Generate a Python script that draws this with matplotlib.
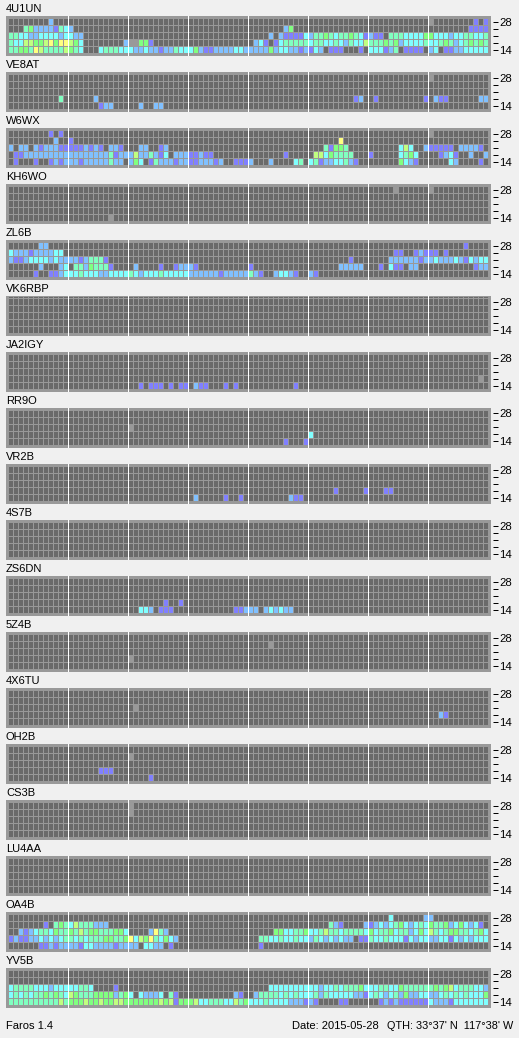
import matplotlib
matplotlib.use("Agg")
import matplotlib.pyplot as plt
from matplotlib.colors import ListedColormap, BoundaryNorm
import numpy as np

#------------------DATA------------------#
# signal level per beacon: 5 bands (top = 28 MHz), 96 slots
# {first slot: "levels"}, 1-7 = level, g = no data, . = nothing heard

stations = ["4U1UN", "VE8AT", "W6WX", "KH6WO", "ZL6B", "VK6RBP", "JA2IGY", "RR9O", "VR2B",
            "4S7B", "ZS6DN", "5Z4B", "4X6TU", "OH2B", "CS3B", "LU4AA", "OA4B", "YV5B"]

band_labels = ["28", "", "", "", "14"]
footer_left = "Faros 1.4"
footer_date = "Date: 2015-05-28"
footer_qth = "QTH: 33°37' N  117°38' W"

heard = {
    "4U1UN": [
        {8: "2", 84: "g", 93: "1", 95: "1"},
        {3: "4522221432", 55: "25", 92: "1111"},
        {0: "443322333323 322", 52: "2.211113 244543445431 211.44433335 533323344334"},
        {0: "433665567577 653", 23: "2gg551", 49: "2", 50: "31.1344444 344334324336 444545233334 334542345454"},
        {0: "445547644446 543", 18: "344433", 24: "322322122433 352112222332 222252332212",
         60: "132.111...1.", 72: "333124.1111.", 84: "23.112233333"},
    ],
    "VE8AT": [
        {84: "g"},
        {},
        {},
        {10: "4", 17: "2", 69: "12", 73: "1", 83: "1", 85: "211", 94: "22"},
        {18: "122", 26: "2", 29: "22"},
    ],
    "W6WX": [
        {8: "1", 10: "1", 84: "g"},
        {9: "2", 12: "1", 66: "7"},
        {0: "2", 2: "22", 5: "21222111112121", 20: "221", 26: "22", 30: "12", 63: "41554", 78: "363",
         83: "211111", 90: "22221"},
        {1: "112 2222222222222222", 20: "4122 2622 4213 .222 1121 1", 55: "1", 61: "66354444", 72: "1",
         78: "3453", 86: "1231", 92: "2", 95: "2"},
        {1: "1", 5: "1", 8: "1212 2212 2222 422. 253. 1422 2122 1122 212", 45: "1112", 52: "2", 57: "34",
         60: "3412233421", 78: "5321", 88: "32", 94: "1"},
    ],
    "KH6WO": [{77: "g", 84: "g"}, {}, {}, {}, {20: "g"}],
    "ZL6B": [
        {6: "22", 91: "1"},
        {0: "32221222233", 77: "11", 81: "12111", 87: "1"},
        {0: "2112 3333 2322 2212 4441", 68: "1", 76: "222222 1223 2223 213233"},
        {6: "2", 10: "23", 13: "44254441", 25: "2", 30: "1", 33: "12221", 48: "1", 66: "22222", 74: "1",
         76: "311", 80: "22", 93: "122"},
        {5: "1", 8: "1123 3343 3322 3333 4323 3343 3333 2222 2212 2222 421", 53: "23321", 60: "21"},
    ],
    "VK6RBP": [{}, {}, {}, {}, {}],
    "JA2IGY": [
        {},
        {},
        {},
        {94: "g"},
        {26: "1", 28: "111", 32: "1", 34: "11", 37: "211", 43: "1", 45: "1", 57: "1"},
    ],
    "RR9O": [{}, {}, {24: "g"}, {60: "3"}, {55: "1", 59: "1"}],
    "VR2B": [
        {},
        {},
        {},
        {65: "1", 71: "1", 75: "11"},
        {37: "2", 43: "1", 46: "1", 56: "211"},
    ],
    "4S7B": [{}, {}, {}, {}, {}],
    "ZS6DN": [
        {},
        {},
        {},
        {31: "1", 34: "1"},
        {26: "332", 30: "111", 45: "11222", 51: "232322"},
    ],
    "5Z4B": [{}, {52: "g"}, {}, {24: "g"}, {}],
    "4X6TU": [{}, {}, {25: "g"}, {86: "21"}, {}],
    "OH2B": [{}, {24: "g"}, {}, {18: "111"}, {28: "1"}],
    "CS3B": [{24: "g"}, {24: "g"}, {}, {}, {}],
    "LU4AA": [{}, {}, {}, {}, {}],
    "OA4B": [
        {76: "3", 83: "22"},
        {7: "1", 9: "45436444222", 64: "421", 71: "21232 3453 2343 5445 2353 231"},
        {2: "2123 4435 4454 6455 4445 53", 28: "2742", 53: "5533445 334644344443 534453442353 643455443453"},
        {0: "1211 2232 3234 4343 4445 5445 7365 7435 32", 50: "4433433433",
         60: "243232322.11", 72: "433433313233", 84: "223313232333"},
        {6: "11 2122 2213 3222 2122 22", 27: "3322", 32: "1", 50: "1"},
    ],
    "YV5B": [
        {},
        {},
        {0: "3444 4333 2333", 12: "33443", 21: "1", 52: "33333333", 60: "332334344453", 72: "334433544444",
         84: "454563444332"},
        {0: "343434454543", 12: "654445555245", 24: "3.32223.41", 45: "21", 49: "2", 50: "4444343433",
         60: "342433333221", 72: "343234252233", 84: "223434343335"},
        {0: "444444444464", 12: "555655655665", 24: "555555656155", 36: "563344433645", 48: "333433332221",
         60: "21", 66: "11", 74: "1212111111", 84: "322213333333"},
    ],
}

#--------------------------------------------#

W = 519
H = 1038
n_slots = 96
n_bands = 5

bg = "#f0f0f0"
frame = "#999999"
levels = ["#6a6a6a", "#8080ff", "#80c0ff", "#80ffff", "#80ffc0", "#80ff80", "#c0ff80", "#ffff80", "#999999"]
cmap = ListedColormap(levels)
norm = BoundaryNorm(np.arange(len(levels) + 1) - 0.5, len(levels))


def to_grid(rows):
    grid = np.zeros((n_bands, n_slots))
    for band, row in enumerate(rows):
        for start, text in row.items():
            for k, ch in enumerate(text.replace(" ", "")):
                if ch == "g":
                    grid[band, start + k] = 8
                elif ch != ".":
                    grid[band, start + k] = int(ch)
    return grid


plt.rcParams["font.family"] = ["Liberation Sans", "DejaVu Sans"]
fig = plt.figure(figsize=(W / 100, H / 100), dpi=100, facecolor=bg)

for s, name in enumerate(stations):
    top = 16 + 56 * s
    ax = fig.add_axes([6 / W, 1 - (top + 40) / H, 485 / W, 40 / H], facecolor=frame)
    # slot i starts at pixel 8 + 5i, band j at pixel top + 2 + 7j
    ax.imshow(to_grid(heard[name]), cmap=cmap, norm=norm, extent=(0, n_slots, n_bands, 0),
              interpolation="nearest", aspect="auto", zorder=1)
    ax.set_xlim(-2 / 5, n_slots + 3 / 5)
    ax.set_ylim(n_bands + 3 / 7, -2 / 7)

    # small offsets so that the 1 px lines snap onto the gap pixel
    for i in range(n_slots):
        ax.axvline(i + 0.05, color=frame, lw=0.72, zorder=2)
    for j in range(n_bands):
        ax.axhline(j + 0.03, color=frame, lw=0.72, zorder=2)
    for i in range(12, n_slots, 12):
        ax.axvline(i + 0.05, color="white", lw=0.72, zorder=3)

    ax.spines["right"].set_position(("outward", 1.44))
    for spine in ax.spines.values():
        spine.set_visible(False)
    ax.set_xticks([])
    ax.yaxis.tick_right()
    ax.set_yticks(np.arange(n_bands) + 0.5)
    ax.set_yticklabels(band_labels)
    ax.tick_params(axis="y", length=3.6, width=0.72, pad=0.9, color="black", labelsize=8.2)

    fig.text(6 / W, 1 - (top - 4) / H, name, fontsize=8, color="black", va="baseline", ha="left")

#--------------------------------------------#

fig.text(6 / W, 1 - 1029 / H, footer_left, fontsize=8, va="baseline", ha="left")
fig.text(292 / W, 1 - 1029 / H, footer_date, fontsize=8, va="baseline", ha="left")
fig.text(387 / W, 1 - 1029 / H, footer_qth, fontsize=7.8, va="baseline", ha="left")

fig.savefig("out.png", dpi=100, facecolor=bg)
